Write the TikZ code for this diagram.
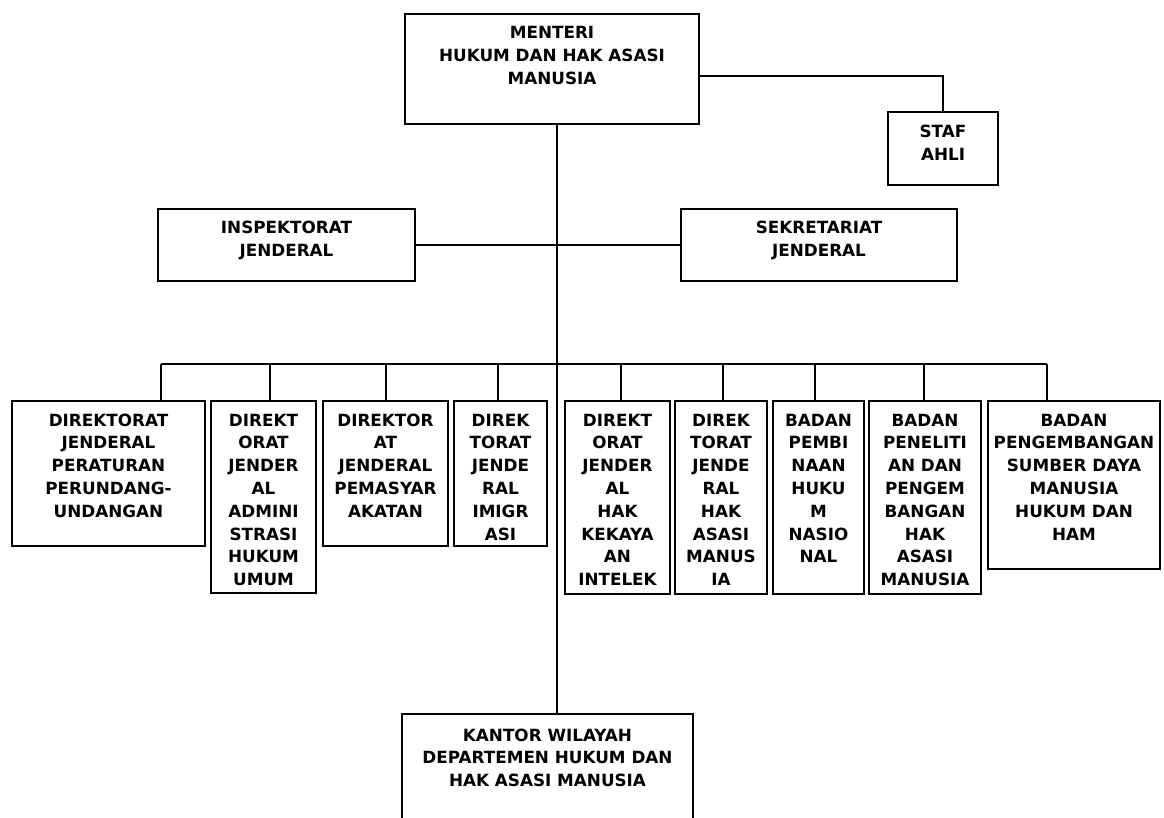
\documentclass[tikz,border=0pt]{standalone}
\usepackage{fontspec}
\setmainfont{DejaVu Sans}
\newcommand{\rows}[1]{\begin{tabular}[t]{@{}c@{}}#1\end{tabular}}
\begin{document}
\begin{tikzpicture}[x=1pt,y=-1pt,line width=2pt,
	font=\fontsize{16.8}{22.8}\selectfont\bfseries,
	unit/.style={draw,anchor=north,inner sep=0pt,outer sep=0pt,text height=25pt}]
			\clip (0,0) rectangle (1164,818);
			% top
			\node[unit,minimum width=294pt,text depth=85pt] (menteri) at (552,14) {\rows{MENTERI\\HUKUM DAN HAK ASASI\\MANUSIA}};
			\node[unit,minimum width=110pt,text depth=47pt,text height=26pt] (staf) at (943,112) {\rows{STAF\\AHLI}};
			% second row
			\node[unit,minimum width=257pt,text depth=47pt] (irjen) at (286.5,209) {\rows{INSPEKTORAT\\JENDERAL}};
			\node[unit,minimum width=276pt,text depth=47pt] (setjen) at (819,209) {\rows{SEKRETARIAT\\JENDERAL}};
			% units
			\node[unit,minimum width=193pt,text depth=120pt] (ditjenpp) at (108.5,401) {\rows{DIREKTORAT\\JENDERAL\\PERATURAN\\PERUNDANG-\\UNDANGAN}};
			\node[unit,minimum width=105pt,text depth=167pt] (ditjenahu) at (263.5,401) {\rows{DIREKT\\ORAT\\JENDER\\AL\\ADMINI\\STRASI\\HUKUM\\UMUM}};
			\node[unit,minimum width=125pt,text depth=120pt] (ditjenpas) at (385.5,401) {\rows{DIREKTOR\\AT\\JENDERAL\\PEMASYAR\\AKATAN}};
			\node[unit,minimum width=93pt,text depth=120pt] (ditjenim) at (500.5,401) {\rows{DIREK\\TORAT\\JENDE\\RAL\\IMIGR\\ASI}};
			\node[unit,minimum width=105pt,text depth=168pt] (ditjenhki) at (617.5,401) {\rows{DIREKT\\ORAT\\JENDER\\AL\\HAK\\KEKAYA\\AN\\INTELEK}};
			\node[unit,minimum width=92pt,text depth=168pt] (ditjenham) at (721,401) {\rows{DIREK\\TORAT\\JENDE\\RAL\\HAK\\ASASI\\MANUS\\IA}};
			\node[unit,minimum width=91pt,text depth=168pt] (bphn) at (818.5,401) {\rows{BADAN\\PEMBI\\NAAN\\HUKU\\M\\NASIO\\NAL}};
			\node[unit,minimum width=112pt,text depth=168pt] (balitbang) at (925,401) {\rows{BADAN\\PENELITI\\AN DAN\\PENGEM\\BANGAN\\HAK\\ASASI\\MANUSIA}};
			\node[unit,minimum width=172pt,text depth=143pt] (bpsdm) at (1074,401) {\rows{BADAN\\PENGEMBANGAN\\SUMBER DAYA\\MANUSIA\\HUKUM DAN\\HAM}};
			% bottom
			\node[unit,minimum width=291pt,text depth=99pt,text height=27pt] (kanwil) at (547.5,714) {\rows{KANTOR WILAYAH\\DEPARTEMEN HUKUM DAN\\HAK ASASI MANUSIA}};
			% lines
			\coordinate (trunk) at (557,0);
			\coordinate (busl) at (161,364);
			\coordinate (busr) at (1047,364);
			\draw (menteri.south -| trunk) -- (kanwil.north -| trunk);
			\draw (menteri.east) ++(0,7) -| (staf.north);
			\draw (irjen.east) -- (setjen.west);
			\draw (busl) -- (busr);
			\draw (busl) -- (busl |- ditjenpp.north)
			(270,364) -- (ditjenahu.north -| 270,0)
			(386,364) -- (ditjenpas.north -| 386,0)
			(498,364) -- (ditjenim.north -| 498,0)
			(621,364) -- (ditjenhki.north -| 621,0)
			(723,364) -- (ditjenham.north -| 723,0)
			(815,364) -- (bphn.north -| 815,0)
			(924,364) -- (balitbang.north -| 924,0)
			(busr) -- (busr |- bpsdm.north);
		\end{tikzpicture}
\end{document}
